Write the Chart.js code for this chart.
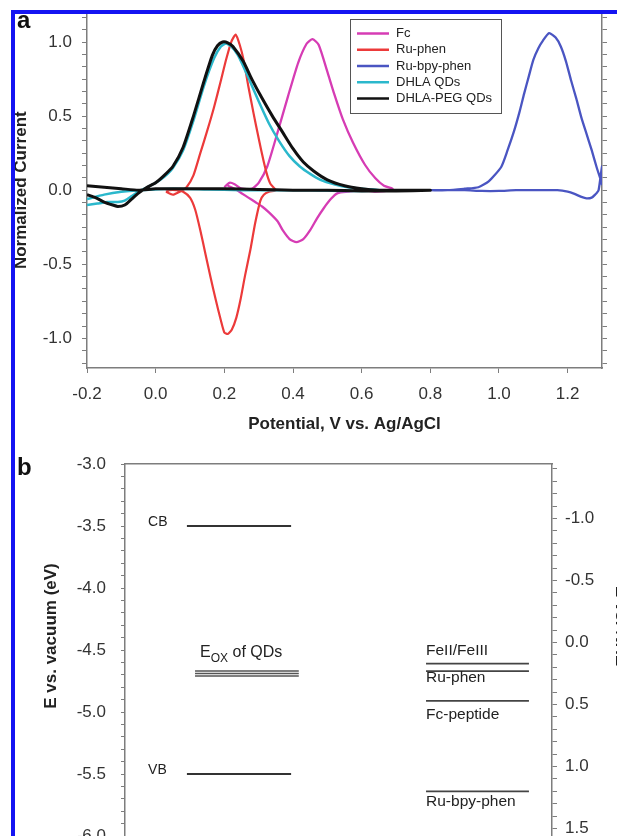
<!DOCTYPE html>
<html>
<head>
<meta charset="utf-8">
<title>QD voltammetry and energy levels</title>
<script src="https://cdn.jsdelivr.net/npm/chart.js@4.4.1/dist/chart.umd.min.js"></script>
<style>
  html, body { margin: 0; padding: 0; overflow: hidden; background: #fff; }
  body { position: relative; width: 617px; height: 836px; }
  #cvChart { position: absolute; left: 0; top: 0; }
  #levelChart { position: absolute; left: 0; top: 440px; }
  .tag { position: absolute; font: bold 24px "Liberation Sans", Arial, sans-serif; line-height: 24px; color: #111; }
  #frame { position: absolute; left: 11px; top: 10px; width: 900px; height: 1000px;
           border: 4px solid #1414f2; box-sizing: border-box; pointer-events: none; z-index: 5; }
</style>
</head>
<body>
<canvas id="cvChart" width="617" height="440"></canvas>
<canvas id="levelChart" width="640" height="458"></canvas>
<div class="tag" style="left:17px; top:8px;">a</div>
<div class="tag" style="left:17px; top:455px;">b</div>
<div id="frame"></div>
<script>
// ---------- panel a: normalized CVs, potential in V vs Ag/AgCl ----------
const fcPotential = [0.20, 0.215, 0.23, 0.25, 0.28, 0.30, 0.325, 0.355, 0.385, 0.415, 0.44, 0.457, 0.475, 0.50, 0.52, 0.545, 0.575, 0.61, 0.64, 0.665, 0.69,
                     0.69, 0.64, 0.60, 0.56, 0.53, 0.51, 0.49, 0.47, 0.45, 0.43, 0.41, 0.39, 0.37, 0.355, 0.33, 0.31, 0.29, 0.27, 0.25, 0.23, 0.21];
const fcCurrent = [0.02, 0.05, 0.04, 0.01, 0.01, 0.05, 0.16, 0.39, 0.63, 0.86, 0.99, 1.02, 0.98, 0.80, 0.65, 0.48, 0.32, 0.17, 0.08, 0.03, 0.01,
                   0.0, -0.01, 0.0, -0.01, -0.02, -0.06, -0.12, -0.19, -0.27, -0.33, -0.35, -0.33, -0.27, -0.21, -0.15, -0.11, -0.08, -0.05, -0.02, 0.01, 0.03];

const ruPhenPotential = [0.03, 0.05, 0.07, 0.09, 0.11, 0.13, 0.15, 0.17, 0.19, 0.205, 0.22, 0.233, 0.245, 0.256, 0.27, 0.285, 0.30, 0.314, 0.325, 0.335, 0.35,
                         0.33, 0.315, 0.305, 0.29, 0.276, 0.26, 0.247, 0.235, 0.222, 0.21, 0.20, 0.19, 0.175, 0.16, 0.145, 0.13, 0.115, 0.10, 0.08, 0.06, 0.04, 0.03];
const ruPhenCurrent = [-0.01, -0.03, -0.01, 0.02, 0.10, 0.25, 0.40, 0.56, 0.74, 0.88, 1.0, 1.05, 0.98, 0.88, 0.70, 0.52, 0.35, 0.20, 0.10, 0.04, 0.0,
                       -0.01, -0.03, -0.07, -0.22, -0.40, -0.58, -0.74, -0.86, -0.94, -0.97, -0.96, -0.88, -0.74, -0.59, -0.43, -0.27, -0.13, -0.05, -0.01, 0.0, 0.0, -0.01];

const ruBpyPotential = [0.80, 0.85, 0.90, 0.94, 0.97, 1.006, 1.025, 1.044, 1.06, 1.073, 1.087, 1.10, 1.115, 1.128, 1.146, 1.165, 1.18, 1.195, 1.21, 1.225, 1.24, 1.255, 1.27, 1.285, 1.295, 1.30,
                        1.30, 1.29, 1.28, 1.27, 1.255, 1.24, 1.22, 1.20, 1.17, 1.12, 1.05, 1.0, 0.95, 0.90, 0.85, 0.80];
const ruBpyCurrent = [0.0, 0.0, 0.01, 0.02, 0.06, 0.155, 0.27, 0.40, 0.53, 0.65, 0.77, 0.88, 0.96, 1.01, 1.06, 1.03, 0.97, 0.87, 0.74, 0.62, 0.49, 0.38, 0.27, 0.15, 0.08, 0.04,
                      0.16, 0.0, -0.03, -0.05, -0.055, -0.045, -0.025, -0.01, 0.0, 0.0, 0.0, -0.005, -0.005, 0.0, 0.0, 0.0];

const dhlaPotential = [-0.20, -0.17, -0.14, -0.11, -0.09, -0.07, -0.05, -0.025, 0.0, 0.025, 0.05, 0.08, 0.11, 0.14, 0.17, 0.19, 0.205, 0.22, 0.24, 0.27, 0.30, 0.33, 0.36, 0.39, 0.42, 0.45, 0.48, 0.52, 0.56, 0.60, 0.65,
                       0.55, 0.45, 0.35, 0.25, 0.15, 0.05, -0.05, -0.10, -0.15, -0.20];
const dhlaCurrent = [-0.10, -0.09, -0.08, -0.08, -0.07, -0.04, -0.01, 0.02, 0.05, 0.09, 0.15, 0.27, 0.47, 0.70, 0.89, 0.97, 0.99, 0.97, 0.91, 0.76, 0.60, 0.45, 0.33, 0.23, 0.16, 0.11, 0.07, 0.04, 0.02, 0.01, 0.0,
                     -0.005, 0.0, 0.0, 0.0, 0.005, 0.01, 0.0, -0.01, -0.03, -0.06];

const pegPotential = [-0.20, -0.175, -0.15, -0.125, -0.11, -0.09, -0.07, -0.05, -0.025, 0.0, 0.025, 0.05, 0.08, 0.11, 0.14, 0.165, 0.18, 0.195, 0.21, 0.225, 0.255, 0.28, 0.31, 0.34, 0.37, 0.40, 0.43, 0.46, 0.50, 0.55, 0.60, 0.65, 0.70, 0.75, 0.80,
                      0.70, 0.60, 0.50, 0.40, 0.30, 0.20, 0.10, 0.0, -0.05, -0.10, -0.15, -0.20];
const pegCurrent = [-0.03, -0.05, -0.08, -0.10, -0.11, -0.10, -0.06, -0.02, 0.02, 0.05, 0.10, 0.16, 0.29, 0.50, 0.73, 0.91, 0.975, 1.0, 0.995, 0.97, 0.87, 0.75, 0.62, 0.50, 0.39, 0.28, 0.19, 0.13, 0.07, 0.03, 0.01, 0.0, 0.0, 0.0, 0.0,
                    -0.005, -0.005, 0.0, 0.0, 0.005, 0.01, 0.01, 0.01, 0.0, 0.01, 0.02, 0.03];

const potentialTicks = [-0.2, 0.0, 0.2, 0.4, 0.6, 0.8, 1.0, 1.2];

// ---------- panel b: energy levels ----------
const bandNames = ['CB', 'VB'];
const bandEnergies = [-3.5, -5.5];              // eV vs vacuum
const qdOxEnergies = [-4.67, -4.69, -4.71];     // eV vs vacuum
const redoxNames = ['FeII/FeIII', 'Ru-phen', 'Fc-peptide', 'Ru-bpy-phen'];
const redoxPotentials = [0.17, 0.23, 0.47, 1.20];  // V vs NHE
const NHE_VS_VACUUM = -4.44;

// layout bits (kept apart from the data)
const fontFamily = '"Liberation Sans", Arial, Helvetica, sans-serif';
const axisGray = '#7d7d7d';
const textGray = '#333';
const columns = { band: [14.5, 38.9], ox: [16.4, 40.7], redox: [70.5, 94.6], bandLabel: 5.4 };
const redoxLabelDy = [-12.5, 7, 13.5, 10];

function pairUp(xs, ys) {
    return xs.map((v, i) => ({ x: v, y: ys[i] }));
}

function tickRange(from, to, step) {
    const n = Math.round((to - from) / step);
    const out = [];
    for (let i = 0; i <= n; i++) out.push({ value: +(from + i * step).toFixed(6) });
    return out;
}

function halfLabel(v) {
    return Math.abs(v * 2 - Math.round(v * 2)) < 1e-6 ? v.toFixed(1) : '';
}

// fix the axis box size so the plot area lands where the original one is
function fixBox(size) {
    return (scale) => {
        if (scale.isHorizontal()) scale.height = size; else scale.width = size;
        scale.paddingLeft = scale.paddingRight = scale.paddingTop = scale.paddingBottom = 0;
    };
}

function cvSeries(label, xs, ys, color, width, order) {
    return {
        label: label,
        data: pairUp(xs, ys),
        borderColor: color,
        backgroundColor: color,
        borderWidth: width,
        showLine: true,
        pointRadius: 0,
        tension: 0.2,
        order: order
    };
}

const cvLegend = {
    id: 'cvLegend',
    afterDraw(chart) {
        const ctx = chart.ctx;
        ctx.save();
        ctx.fillStyle = '#fff';
        ctx.fillRect(350, 19, 151, 94);
        ctx.strokeStyle = '#555';
        ctx.lineWidth = 1;
        ctx.strokeRect(350.5, 19.5, 151, 94);
        ctx.font = '13px ' + fontFamily;
        ctx.textBaseline = 'middle';
        chart.data.datasets.forEach((ds, i) => {
            const yy = 33.5 + i * 16.25;
            ctx.strokeStyle = ds.borderColor;
            ctx.lineWidth = 2.5;
            ctx.beginPath();
            ctx.moveTo(357, yy);
            ctx.lineTo(389, yy);
            ctx.stroke();
            ctx.fillStyle = '#222';
            ctx.fillText(ds.label, 396, yy);
        });
        ctx.restore();
    }
};

new Chart(document.getElementById('cvChart'), {
    type: 'scatter',
    data: {
        datasets: [
            cvSeries('Fc', fcPotential, fcCurrent, '#d63cb4', 2.3, 3),
            cvSeries('Ru-phen', ruPhenPotential, ruPhenCurrent, '#ec3a3a', 2.2, 2),
            cvSeries('Ru-bpy-phen', ruBpyPotential, ruBpyCurrent, '#4a55c2', 2.3, 4),
            cvSeries('DHLA QDs', dhlaPotential, dhlaCurrent, '#2bb8cc', 2.5, 1),
            cvSeries('DHLA-PEG QDs', pegPotential, pegCurrent, '#111', 3, 0)
        ]
    },
    options: {
        responsive: false,
        animation: false,
        layout: { padding: 0 },
        plugins: { legend: { display: false }, tooltip: { enabled: false } },
        scales: {
            x: {
                type: 'linear', position: 'bottom', min: -0.2, max: 1.3,
                afterBuildTicks: (s) => { s.ticks = potentialTicks.map(v => ({ value: v })); },
                ticks: { autoSkip: false, maxRotation: 0, padding: 11, color: textGray,
                         font: { family: fontFamily, size: 17 }, callback: (v) => v.toFixed(1) },
                grid: { drawOnChartArea: false, tickLength: 5, color: axisGray },
                border: { color: axisGray, width: 1.5 },
                title: { display: true, text: 'Potential, V vs. Ag/AgCl', color: '#222',
                         font: { family: fontFamily, size: 17, weight: 'bold' }, padding: { top: 0, bottom: 5 } },
                afterFit: fixBox(72)
            },
            xTop: {
                type: 'linear', position: 'top', min: -0.2, max: 1.3,
                ticks: { display: false },
                grid: { drawOnChartArea: false, drawTicks: false },
                border: { color: axisGray, width: 1.5 },
                afterFit: fixBox(12.4)
            },
            y: {
                type: 'linear', position: 'left', min: -1.2, max: 1.2,
                afterBuildTicks: (s) => { s.ticks = tickRange(-14 / 12, 14 / 12, 1 / 12); },
                ticks: { autoSkip: false, padding: 10, color: textGray,
                         font: { family: fontFamily, size: 17 }, callback: halfLabel },
                grid: { drawOnChartArea: false, tickLength: 5, color: axisGray },
                border: { color: axisGray, width: 1.5 },
                title: { display: true, text: 'Normalized Current', color: '#222',
                         font: { family: fontFamily, size: 17, weight: 'bold' }, padding: { top: 11, bottom: 0 } },
                afterFit: fixBox(87)
            },
            yRight: {
                type: 'linear', position: 'right', min: -1.2, max: 1.2,
                afterBuildTicks: (s) => { s.ticks = tickRange(-14 / 12, 14 / 12, 1 / 12); },
                ticks: { display: false, autoSkip: false },
                grid: { drawOnChartArea: false, tickLength: 5, color: axisGray },
                border: { color: axisGray, width: 1.5 },
                afterFit: fixBox(15)
            }
        }
    },
    plugins: [cvLegend]
});

// ---------- panel b ----------
function levelLine(label, span, value, axisId, color, width) {
    return {
        label: label,
        data: [{ x: span[0], y: value }, { x: span[1], y: value }],
        yAxisID: axisId,
        borderColor: color,
        borderWidth: width,
        showLine: true,
        pointRadius: 0
    };
}

function drawRotated(ctx, text, x, y, angle) {
    ctx.save();
    ctx.translate(x, y);
    ctx.rotate(angle);
    ctx.textAlign = 'center';
    ctx.textBaseline = 'middle';
    ctx.fillText(text, 0, 0);
    ctx.restore();
}

const levelText = {
    id: 'levelText',
    afterDraw(chart) {
        const { ctx, scales } = chart;
        const x = scales.x, y = scales.y, yNhe = scales.yNhe;
        ctx.save();
        ctx.fillStyle = '#222';
        ctx.textAlign = 'left';
        ctx.textBaseline = 'middle';

        ctx.font = '14px ' + fontFamily;
        bandNames.forEach((name, i) => {
            ctx.fillText(name, x.getPixelForValue(columns.bandLabel), y.getPixelForValue(bandEnergies[i]) - 4);
        });

        // E_ox of QDs, with subscript
        ctx.textBaseline = 'alphabetic';
        let px = x.getPixelForValue(columns.ox[0]) + 5;
        const base = y.getPixelForValue(qdOxEnergies[0]) - 14;
        ctx.font = '16px ' + fontFamily;
        ctx.fillText('E', px, base);
        px += ctx.measureText('E').width;
        ctx.font = '12px ' + fontFamily;
        ctx.fillText('OX', px, base + 5);
        px += ctx.measureText('OX').width;
        ctx.font = '16px ' + fontFamily;
        ctx.fillText(' of QDs', px, base);

        ctx.textBaseline = 'middle';
        ctx.font = '15.5px ' + fontFamily;
        redoxNames.forEach((name, i) => {
            ctx.fillText(name, x.getPixelForValue(columns.redox[0]), yNhe.getPixelForValue(redoxPotentials[i]) + redoxLabelDy[i]);
        });

        ctx.font = 'bold 17px ' + fontFamily;
        drawRotated(ctx, 'E vs. vacuum (eV)', 51, 196, -Math.PI / 2);
        drawRotated(ctx, 'E vs. NHE', 621, 186, Math.PI / 2);
        ctx.restore();
    }
};

new Chart(document.getElementById('levelChart'), {
    type: 'scatter',
    data: {
        datasets: [
            ...bandEnergies.map((e, i) => levelLine(bandNames[i], columns.band, e, 'y', '#333', 2)),
            ...qdOxEnergies.map((e) => levelLine('E_ox of QDs', columns.ox, e, 'y', '#555', 1.5)),
            ...redoxPotentials.map((p, i) => levelLine(redoxNames[i], columns.redox, p, 'yNhe', '#444', 1.6))
        ]
    },
    options: {
        responsive: false,
        animation: false,
        layout: { padding: 0 },
        plugins: { legend: { display: false }, tooltip: { enabled: false } },
        scales: {
            x: { type: 'linear', min: 0, max: 100, display: false },
            xTop: {
                type: 'linear', position: 'top', min: 0, max: 100,
                ticks: { display: false },
                grid: { drawOnChartArea: false, drawTicks: false },
                border: { color: axisGray, width: 1.5 },
                afterFit: fixBox(24)
            },
            y: {
                type: 'linear', position: 'left', min: -6.5, max: -3.0,
                afterBuildTicks: (s) => { s.ticks = tickRange(-6.5, -3.0, 0.1); },
                ticks: { autoSkip: false, padding: 15, color: textGray,
                         font: { family: fontFamily, size: 17 }, callback: halfLabel },
                grid: { drawOnChartArea: false, tickLength: 4, color: axisGray },
                border: { color: axisGray, width: 1.5 },
                afterFit: fixBox(125)
            },
            yNhe: {
                type: 'linear', position: 'right', reverse: true,
                min: NHE_VS_VACUUM + 3.0, max: NHE_VS_VACUUM + 6.5,
                afterBuildTicks: (s) => { s.ticks = tickRange(-1.4, 2.0, 0.1); },
                ticks: { autoSkip: false, padding: 8, color: textGray,
                         font: { family: fontFamily, size: 17 }, callback: halfLabel },
                grid: { drawOnChartArea: false, tickLength: 5, color: axisGray },
                border: { color: axisGray, width: 1.5 },
                afterFit: fixBox(88)
            }
        }
    },
    plugins: [levelText]
});
</script>
</body>
</html>
